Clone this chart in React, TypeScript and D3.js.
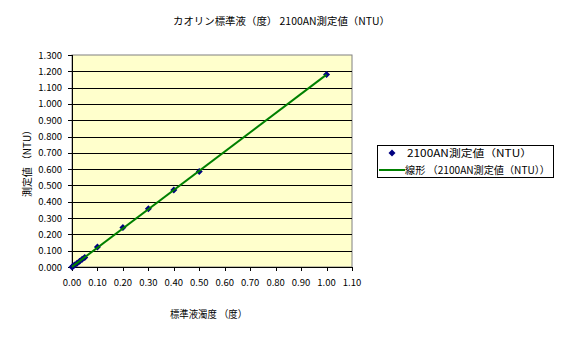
import React from "react";
import * as d3 from "d3";

const xValues = [0, 0.005, 0.01, 0.02, 0.03, 0.04, 0.05, 0.1, 0.2, 0.3, 0.4, 0.5, 1.0];
const yValues = [0.0, 0.006, 0.012, 0.023, 0.035, 0.047, 0.059, 0.122, 0.242, 0.357, 0.472, 0.585, 1.18];
const xTicks = d3.range(0, 1.1001, 0.1);
const yTicks = d3.range(0, 1.3001, 0.1);
const title = "カオリン標準液（度） 2100AN測定値（NTU）";
const xTitle = "標準液濁度 （度）";
const yTitle = "測定値 （NTU）";
const seriesName = "2100AN測定値（NTU）";
const trendName = "線形 （2100AN測定値（NTU））";

export default function App() {
  const W = 567, H = 339;
  const L = 72, R = 352, T = 55, B = 267;
  const x = d3.scaleLinear().domain([0, 1.1]).range([L, R]);
  const y = d3.scaleLinear().domain([0, 1.3]).range([B, T]);
  const n = xValues.length;
  const mx = d3.mean(xValues)!, my = d3.mean(yValues)!;
  let sxy = 0, sxx = 0;
  for (let i = 0; i < n; i++) { sxy += (xValues[i] - mx) * (yValues[i] - my); sxx += (xValues[i] - mx) ** 2; }
  const slope = sxy / sxx, icpt = my - slope * mx;
  const x0 = d3.min(xValues)!, x1 = d3.max(xValues)!;
  const font = "'Noto Sans CJK JP', 'DejaVu Sans', sans-serif";
  const diamond = (cx: number, cy: number, r: number) => `M${cx},${cy - r}L${cx + r},${cy}L${cx},${cy + r}L${cx - r},${cy}Z`;
  return (
    <svg width={W} height={H} style={{ position: "absolute", left: 0, top: 0 }} fontFamily={font}>
      <rect x={0} y={0} width={W} height={H} fill="#fff" />
      <text x={173} y={25} fontSize={10} textLength={217} lengthAdjust="spacingAndGlyphs">{title}</text>
      <rect x={L} y={T} width={R - L} height={B - T} fill="#FFFFCC" stroke="#808080" />
      {yTicks.slice(1, -1).map((t, i) => (
        <line key={i} x1={L} x2={R} y1={Math.round(y(t)) + 0.5} y2={Math.round(y(t)) + 0.5} stroke="#000" />
      ))}
      <line x1={L + 0.5} x2={L + 0.5} y1={T} y2={B} stroke="#000" />
      <line x1={L} x2={R} y1={B + 0.5} y2={B + 0.5} stroke="#000" />
      {yTicks.map((t, i) => (
        <g key={i}>
          <line x1={L - 4} x2={L} y1={Math.round(y(t)) + 0.5} y2={Math.round(y(t)) + 0.5} stroke="#000" />
          <text x={62} y={y(t) + 3.5} fontSize={9.5} textAnchor="end">{t.toFixed(3)}</text>
        </g>
      ))}
      {xTicks.map((t, i) => (
        <g key={i}>
          <line x1={Math.round(x(t)) + 0.5} x2={Math.round(x(t)) + 0.5} y1={B} y2={B + 4} stroke="#000" />
          <text x={x(t)} y={286} fontSize={9.5} textAnchor="middle">{t.toFixed(2)}</text>
        </g>
      ))}
      {xValues.map((v, i) => (
        <path key={i} d={diamond(x(v), y(yValues[i]), 3.5)} fill="#000080" />
      ))}
      <line x1={x(x0)} y1={y(slope * x0 + icpt)} x2={x(x1)} y2={y(slope * x1 + icpt)} stroke="#008000" strokeWidth={2} />
      <text x={170} y={318} fontSize={10} textLength={77} lengthAdjust="spacingAndGlyphs">{xTitle}</text>
      <text transform="translate(31,197) rotate(-90)" fontSize={10} textLength={72} lengthAdjust="spacingAndGlyphs">{yTitle}</text>
      <rect x={377.5} y={145.5} width={176} height={32} fill="#fff" stroke="#000" />
      <path d={diamond(392, 153, 3.5)} fill="#000080" />
      <text x={407} y={157} fontSize={10} textLength={125} lengthAdjust="spacingAndGlyphs">{seriesName}</text>
      <line x1={379} x2={405} y1={170} y2={170} stroke="#008000" strokeWidth={2} />
      <text x={405} y={174} fontSize={10} textLength={145} lengthAdjust="spacingAndGlyphs">{trendName}</text>
    </svg>
  );
}
